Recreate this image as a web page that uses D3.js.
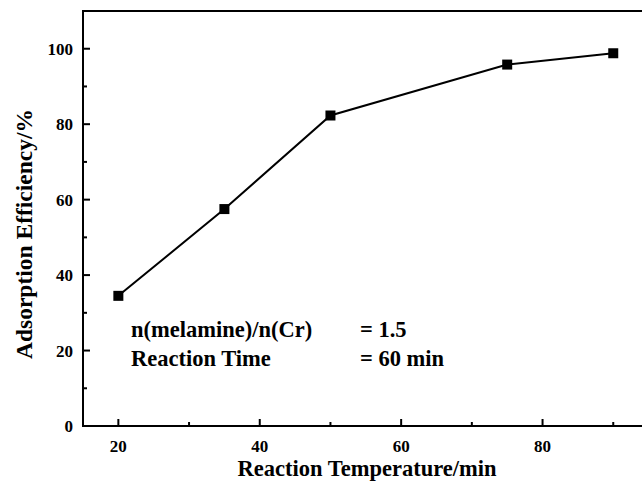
<!DOCTYPE html>
<html>
<head>
<meta charset="utf-8">
<script src="https://cdn.jsdelivr.net/npm/d3@7"></script>
<style>
  body { margin: 0; background: #fff; }
  svg { display: block; font-family: "Liberation Serif", "Times New Roman", Times, serif; font-weight: bold; }
</style>
</head>
<body>
<div id="chart"></div>
<script>
// temperature vs adsorption efficiency
const temps = [20, 35, 50, 75, 90];
const efficiency = [34.5, 57.5, 82.3, 95.8, 98.8];
const xTicks = [20, 40, 60, 80];
const yTicks = [0, 20, 40, 60, 80, 100];
const notes = [["n(melamine)/n(Cr)", "= 1.5"], ["Reaction Time", "= 60 min"]];

const W = 642, H = 481;
const padL = 83, padT = 11, baseY = 426;

const svg = d3.select("#chart").append("svg")
  .attr("width", W).attr("height", H);

const x = d3.scaleLinear().domain([15, 95]).range([padL, padL + 80 * 7.07]);
const y = d3.scaleLinear().domain([0, 110]).range([baseY, padT]);

// frame
svg.append("rect")
  .attr("x", padL).attr("y", padT)
  .attr("width", x(95) - padL).attr("height", baseY - padT)
  .attr("fill", "none").attr("stroke", "#000").attr("stroke-width", 2);

// x axis: major ticks every 20, minor every 10, pointing inward
const xMinor = d3.range(30, 95, 20);
svg.append("g").selectAll("line").data(xTicks.concat(xMinor)).join("line")
  .attr("x1", d => x(d)).attr("x2", d => x(d))
  .attr("y1", baseY).attr("y2", d => baseY - (xTicks.includes(d) ? 7 : 4))
  .attr("stroke", "#000").attr("stroke-width", 2);
svg.append("g").selectAll("text").data(xTicks).join("text")
  .attr("x", d => x(d)).attr("y", 452)
  .attr("text-anchor", "middle").attr("font-size", 17)
  .text(d => d);

// y axis
const yMinor = d3.range(10, 110, 20);
svg.append("g").selectAll("line").data(yTicks.concat(yMinor)).join("line")
  .attr("y1", d => y(d)).attr("y2", d => y(d))
  .attr("x1", padL).attr("x2", d => padL + (yTicks.includes(d) ? 7 : 4))
  .attr("stroke", "#000").attr("stroke-width", 2);
svg.append("g").selectAll("text").data(yTicks).join("text")
  .attr("x", 73).attr("y", d => y(d) + 6)
  .attr("text-anchor", "end").attr("font-size", 17)
  .text(d => d);

// axis titles
svg.append("text")
  .attr("x", 367).attr("y", 476)
  .attr("text-anchor", "middle").attr("font-size", 22.5)
  .text("Reaction Temperature/min");
svg.append("text")
  .attr("transform", "translate(32,234) rotate(-90)")
  .attr("text-anchor", "middle").attr("font-size", 23.5)
  .text("Adsorption Efficiency/%");

// series
const pts = temps.map((t, i) => [t, efficiency[i]]);
svg.append("path")
  .datum(pts)
  .attr("fill", "none").attr("stroke", "#000").attr("stroke-width", 2)
  .attr("d", d3.line().x(d => x(d[0])).y(d => y(d[1])));
svg.append("g").selectAll("rect").data(pts).join("rect")
  .attr("x", d => x(d[0]) - 5).attr("y", d => y(d[1]) - 5)
  .attr("width", 10).attr("height", 10)
  .attr("fill", "#000");

// conditions
const note = svg.append("g").attr("font-size", 22.5);
notes.forEach((n, i) => {
  note.append("text").attr("x", 131).attr("y", 337 + i * 29).text(n[0]);
  note.append("text").attr("x", 360).attr("y", 337 + i * 29).text(n[1]);
});
</script>
</body>
</html>
